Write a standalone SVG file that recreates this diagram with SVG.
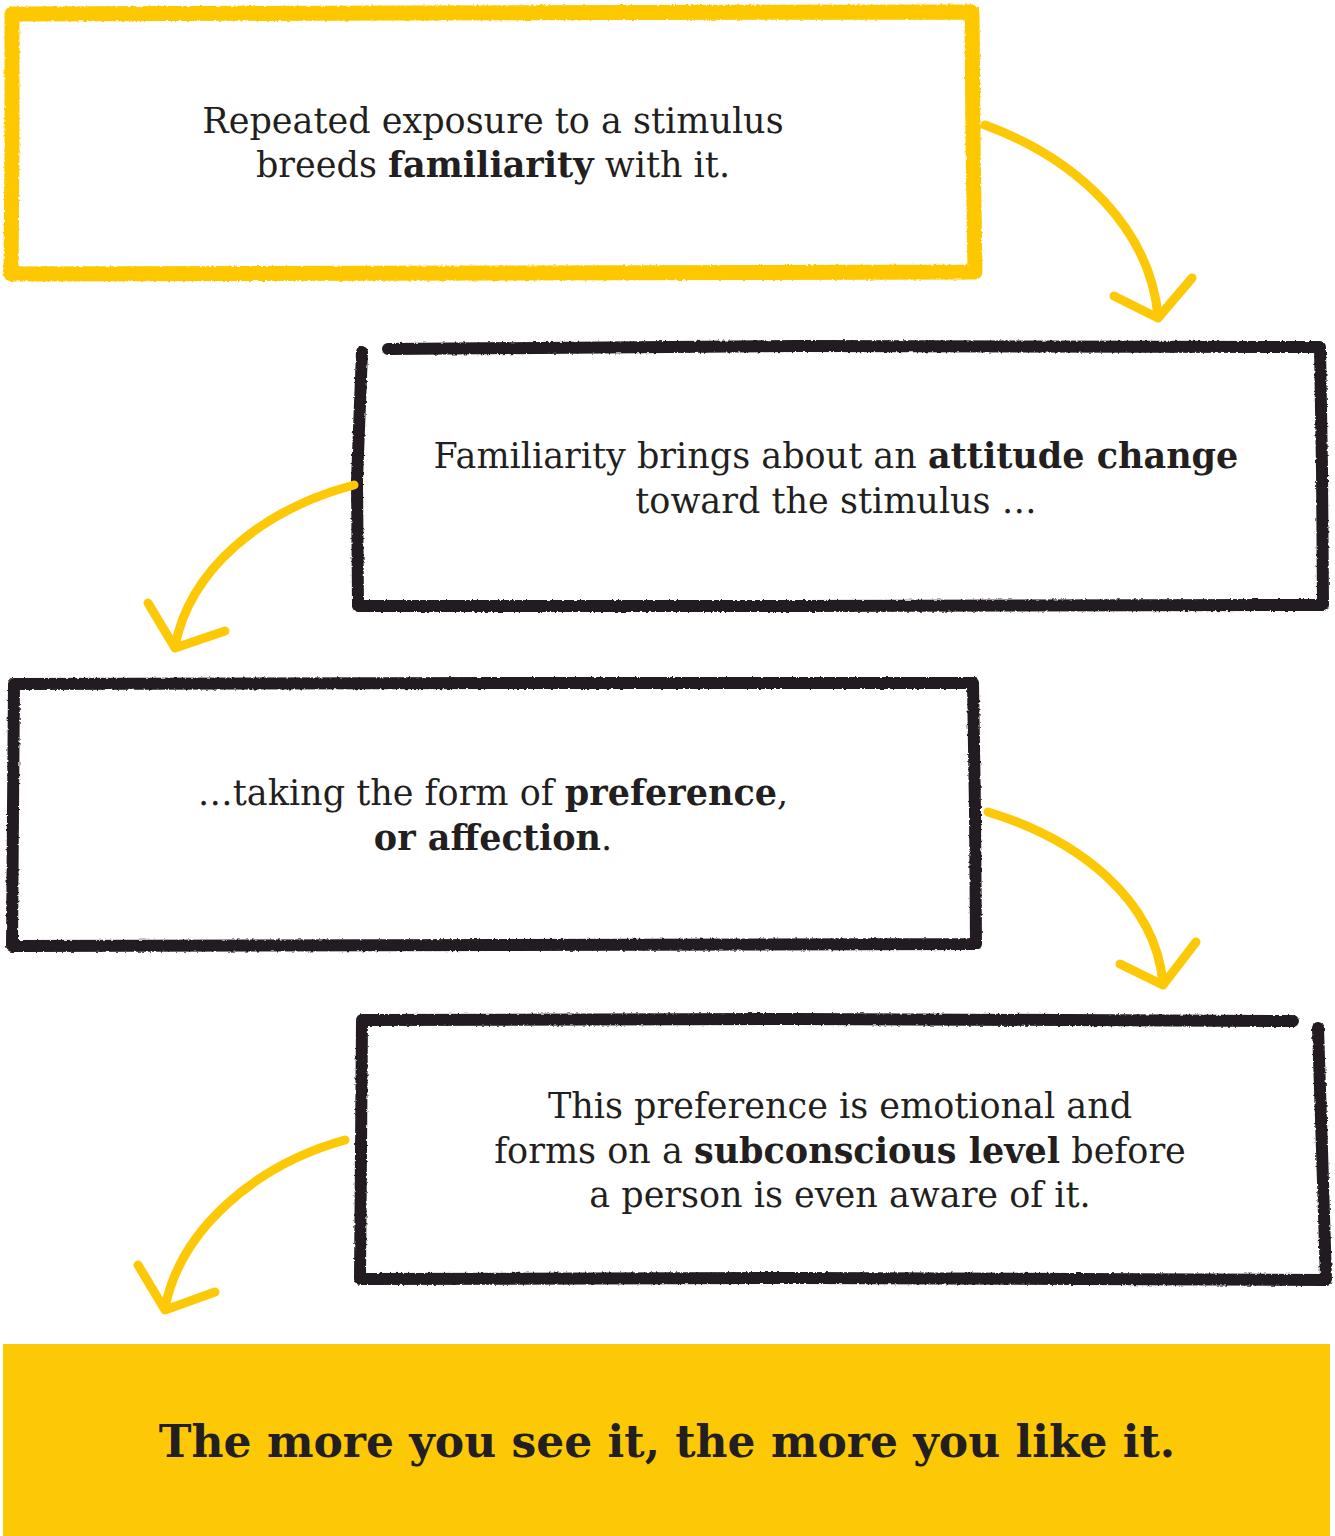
<svg xmlns="http://www.w3.org/2000/svg" width="1335" height="1536" viewBox="0 0 1335 1536">
<defs>
<filter id="rough" x="-5%" y="-5%" width="110%" height="110%">
<feTurbulence type="fractalNoise" baseFrequency="0.35" numOctaves="2" seed="3" result="n"/>
<feDisplacementMap in="SourceGraphic" in2="n" scale="3" xChannelSelector="R" yChannelSelector="G"/>
</filter>
<style>
.yb{fill:none;stroke:#FDC806;stroke-width:15;stroke-linejoin:round;stroke-linecap:round}
.kb{fill:none;stroke:#231F20;stroke-width:12;stroke-linejoin:round;stroke-linecap:round}
.arr{fill:none;stroke:#FDC806;stroke-width:9;stroke-linecap:round;stroke-linejoin:round}
.t{font-family:"DejaVu Serif",serif;font-size:35px;fill:#231F20;text-anchor:middle}
.b{font-weight:bold}
.big{font-family:"DejaVu Serif",serif;font-size:44px;font-weight:bold;fill:#231F20;text-anchor:middle}
</style>
</defs>
<rect width="1335" height="1536" fill="#fff"/>
<g id="node1">
<path class="yb" filter="url(#rough)" d="M12,14 L400,13 L972,12 L973,140 L975,272 L500,273 L11,274 L12,140 Z"/>
<text class="t" x="493" y="133">Repeated exposure to a stimulus</text>
<text class="t" x="493" y="177">breeds <tspan class="b">familiarity</tspan> with it.</text>
</g>
<g id="node2">
<path class="kb" filter="url(#rough)" d="M388,349 L800,346 L1320,347 L1322,470 L1323,605 L800,606 L358,606 L357,480 L362,352"/>
<text class="t" x="836" y="468">Familiarity brings about an <tspan class="b">attitude change</tspan></text>
<text class="t" x="836" y="513">toward the stimulus …</text>
</g>
<g id="node3">
<path class="kb" filter="url(#rough)" d="M14,684 L500,683 L973,683 L975,810 L976,944 L500,945 L12,946 L13,810 Z"/>
<text class="t" x="493" y="805">…taking the form of <tspan class="b">preference</tspan>,</text>
<text class="t" x="493" y="850"><tspan class="b">or affection</tspan>.</text>
</g>
<g id="node4">
<path class="kb" filter="url(#rough)" d="M362,1020 L800,1019 L1293,1021 M1318,1028 L1322,1150 L1326,1280 L800,1278 L360,1279 L361,1150 L362,1020"/>
<text class="t" x="840" y="1118">This preference is emotional and</text>
<text class="t" x="840" y="1163">forms on a <tspan class="b">subconscious level</tspan> before</text>
<text class="t" x="840" y="1207">a person is even aware of it.</text>
</g>
<g id="node5">
<rect x="3" y="1344" width="1327" height="192" fill="#FDC806"/>
<text class="big" x="667" y="1457">The more you see it, the more you like it.</text>
</g>
<g id="connectors">
<path class="arr" d="M985,125 C1080,160 1150,230 1158,316"/>
<path class="arr" d="M1114,296 L1158,318 L1192,278"/>
<path class="arr" d="M354,485 C260,510 190,570 175,646"/>
<path class="arr" d="M148,603 L175,648 L225,631"/>
<path class="arr" d="M988,812 C1080,840 1155,900 1163,983"/>
<path class="arr" d="M1120,964 L1163,985 L1196,942"/>
<path class="arr" d="M345,1140 C255,1165 180,1230 165,1308"/>
<path class="arr" d="M138,1265 L165,1310 L215,1292"/>
</g>
</svg>
